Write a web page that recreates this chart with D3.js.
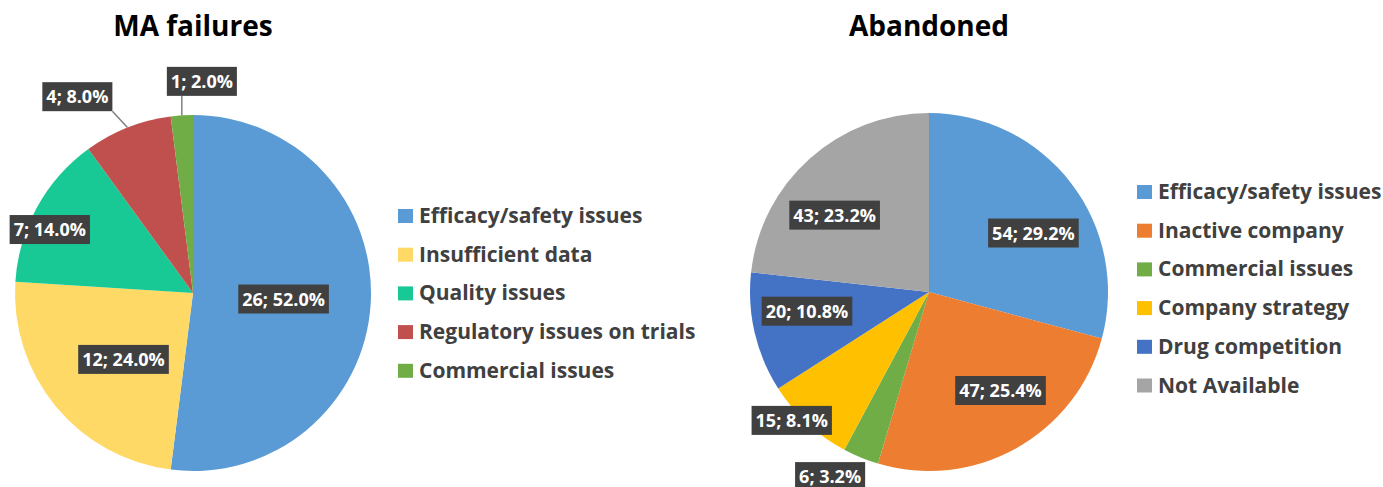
<!DOCTYPE html>
<html>
<head>
<meta charset="utf-8">
<script src="https://cdn.jsdelivr.net/npm/d3@7"></script>
<style>
  body { margin: 0; background: #fff; }
  text { font-family: "Open Sans", Lato, sans-serif; font-weight: bold; }
</style>
</head>
<body>
<div id="myChart"></div>
<script>
// data
let maCategories = ["Efficacy/safety issues", "Insufficient data", "Quality issues", "Regulatory issues on trials", "Commercial issues"];
let maValues = [26, 12, 7, 4, 1];
let maColors = ["#5b9bd5", "#ffd966", "#19c995", "#c0504d", "#70ad47"];

let abCategories = ["Efficacy/safety issues", "Inactive company", "Commercial issues", "Company strategy", "Drug competition", "Not Available"];
let abValues = [54, 47, 6, 15, 20, 43];
let abColors = ["#5b9bd5", "#ed7d31", "#70ad47", "#ffc000", "#4472c4", "#a5a5a5"];

// label placement: [radius factor, angle nudge in degrees, leader line]
let maLabelPos = [[0.51, 0.2, false], [0.54, -4.1, false], [0.88, -4.9, false], [1.28, -8.9, true], [1.19, 6, true]];
let abLabelPos = [[0.67, 8.0, false], [0.68, -6.8, false], [1.17, 5.8, false], [1.05, 4.1, false], [0.69, 4.2, false], [0.68, -9.0, false]];

let width = 1383, height = 487;

let svg = d3.select("#myChart").append("svg")
    .attr("width", width)
    .attr("height", height);

function drawPie(opts) {
    let total = d3.sum(opts.values);
    let r = opts.radius;

    let g = svg.append("g")
        .attr("transform", "translate(" + opts.cx + "," + opts.cy + ")");

    let pie = d3.pie().sort(null).value(function(d) { return d; });
    let arc = d3.arc().innerRadius(0).outerRadius(r);
    let arcs = pie(opts.values);

    // slices
    g.selectAll(".slice")
        .data(arcs)
        .enter()
        .append("path")
        .attr("class", "slice")
        .attr("d", arc)
        .attr("fill", function(d, i) { return opts.colors[i]; });

    // title
    svg.append("text")
        .attr("x", opts.cx)
        .attr("y", 36)
        .attr("text-anchor", "middle")
        .style("font-size", "28px")
        .attr("fill", "#000")
        .text(opts.title);

    // data labels
    arcs.forEach(function(d, i) {
        let pos = opts.labelPos[i];
        let mid = (d.startAngle + d.endAngle) / 2;
        let a = mid + pos[1] * Math.PI / 180;
        let lr = pos[0] * r;
        let lx = lr * Math.sin(a), ly = -lr * Math.cos(a);

        let lg = g.append("g");
        let txt = lg.append("text")
            .attr("x", lx)
            .attr("y", ly)
            .attr("dy", "0.36em")
            .attr("text-anchor", "middle")
            .style("font-size", "18px")
            .attr("fill", "#fff")
            .text(d.data + "; " + (d.data / total * 100).toFixed(1) + "%");
        let bb = txt.node().getBBox();
        let bw = bb.width + 8, bh = 29;
        let bx = lx - bw / 2, by = ly - bh / 2;
        lg.insert("rect", "text")
            .attr("x", bx)
            .attr("y", by)
            .attr("width", bw)
            .attr("height", bh)
            .attr("fill", "#404040");

        if (pos[2]) {
            let px = r * Math.sin(mid), py = -r * Math.cos(mid);
            let qx = Math.max(bx, Math.min(px, bx + bw));
            let qy = Math.max(by, Math.min(py, by + bh));
            g.insert("line", "g")
                .attr("x1", px).attr("y1", py)
                .attr("x2", qx).attr("y2", qy)
                .attr("stroke", "#7f7f7f")
                .attr("stroke-width", 1.5);
        }
    });

    // legend
    let leg = svg.append("g")
        .attr("transform", "translate(" + opts.legendX + "," + opts.legendY + ")");
    let rows = leg.selectAll(".row")
        .data(opts.categories)
        .enter()
        .append("g")
        .attr("class", "row")
        .attr("transform", function(d, i) { return "translate(0," + (i * 38.7) + ")"; });
    rows.append("rect")
        .attr("x", 0)
        .attr("y", -14)
        .attr("width", 15)
        .attr("height", 14)
        .attr("fill", function(d, i) { return opts.colors[i]; });
    rows.append("text")
        .attr("x", 21)
        .attr("y", 0)
        .style("font-size", "21px")
        .attr("fill", "#404040")
        .text(function(d) { return d; });
}

drawPie({
    title: "MA failures",
    values: maValues,
    categories: maCategories,
    colors: maColors,
    labelPos: maLabelPos,
    cx: 193, cy: 293, radius: 178,
    legendX: 398, legendY: 223
});

drawPie({
    title: "Abandoned",
    values: abValues,
    categories: abCategories,
    colors: abColors,
    labelPos: abLabelPos,
    cx: 929, cy: 292, radius: 179,
    legendX: 1137, legendY: 199
});
</script>
</body>
</html>
